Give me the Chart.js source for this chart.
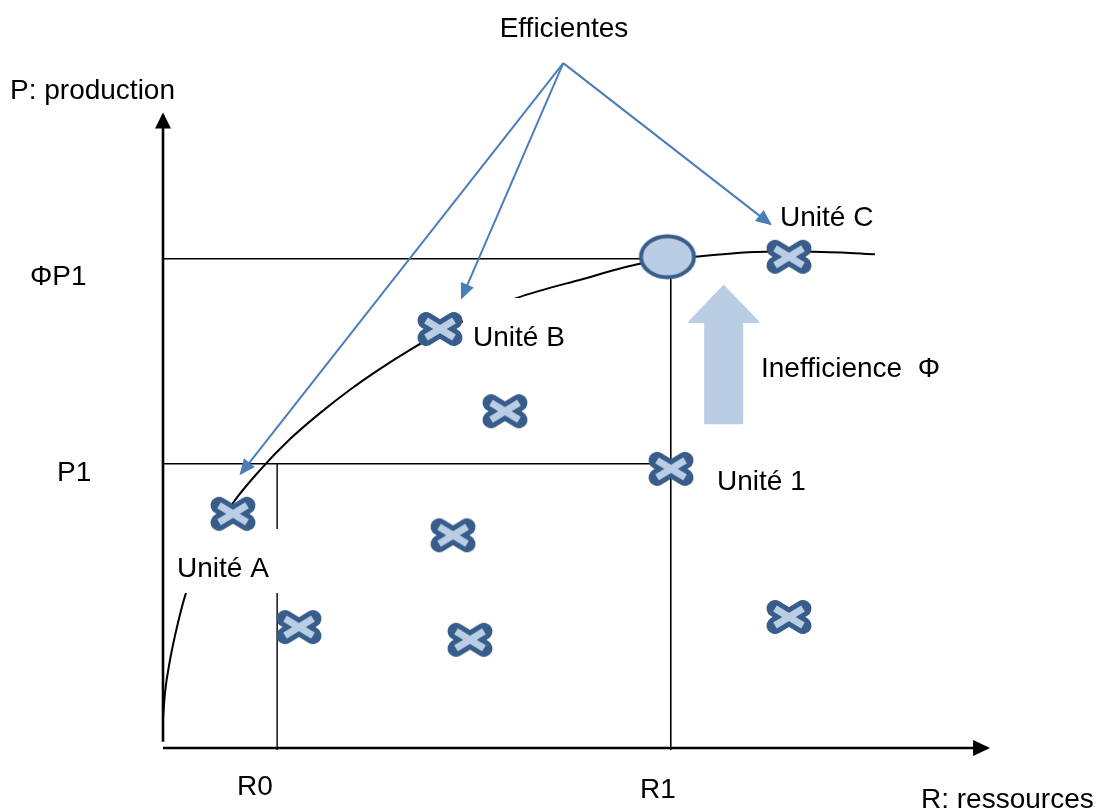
<!DOCTYPE html>
<html>
<head>
<meta charset="utf-8">
<script src="https://cdn.jsdelivr.net/npm/chart.js@4/dist/chart.umd.min.js"></script>
<style>
  html, body { margin: 0; padding: 0; background: #fff; }
  #wrap { width: 1107px; height: 810px; position: relative; }
</style>
</head>
<body>
<div id="wrap"><canvas id="c"></canvas></div>
<script>
// R (resources) on x, P (production) on y, both on a 0-100 scale
const R0 = 13.8;
const R1 = 61.4;
const P1 = 44.9;
const PHI_P1 = 77.3;

// efficiency frontier
const frontierR = [0, 0.24, 0.85, 1.69, 2.78, 4.47, 6.29, 8.46, 11.73, 15.36, 18.98, 22.61, 26.24, 29.87, 33.49, 37.12, 42.8, 50.79, 57.68, 64.33, 73.04, 78.6, 86.09];
const frontierP = [4.7, 8.7, 13.9, 19.1, 24.5, 29.7, 34.0, 38.7, 43.9, 48.8, 52.9, 56.6, 59.9, 62.9, 65.6, 67.9, 71.1, 74.1, 76.5, 77.6, 78.4, 78.4, 78.0];

// units (A, B, -, -, 1, -, -, C, -)
const unitR = [8.46, 33.49, 41.35, 35.07, 61.43, 16.44, 37.12, 75.69, 75.69];
const unitP = [37.0, 66.2, 53.2, 33.6, 44.1, 19.1, 17.1, 77.6, 20.7];

// projection of unit 1 on the frontier
const projR = [61.0];
const projP = [77.6];

// "Efficientes" callouts: common origin, then the tips (A, B, C)
const calloutFrom = [48.4, 108.2];
const calloutToR = [9.43, 36.15, 73.4];
const calloutToP = [43.4, 71.2, 82.8];

// inefficiency arrow
const gapR = 67.8;
const gapFromP = 51.3;
const gapToP = 73.0;

const FONT = '28px "Liberation Sans", Arial, sans-serif';
const DARK = '#385d8a';
const LIGHT = '#b9cde5';
const CALLOUT = '#4a7ebb';

const texts = [
  { t: 'Efficientes', x: 564, y: 37, align: 'center' },
  { t: 'P: production', x: 10, y: 99 },
  { t: '\u03A6P1', x: 30, y: 285 },
  { t: 'P1', x: 57, y: 481 },
  { t: 'Unité C', x: 780, y: 226 },
  { t: 'Unité B', x: 473, y: 346, box: true },
  { t: 'Inefficience  \u03A6', x: 761, y: 377 },
  { t: 'Unité 1', x: 717, y: 490 },
  { t: 'Unité A', x: 177, y: 577, box: true },
  { t: 'R0', x: 237, y: 795 },
  { t: 'R1', x: 640, y: 798 },
  { t: 'R: ressources', x: 921, y: 808 }
];

function makeCross() {
  const c = document.createElement('canvas');
  c.width = 52; c.height = 42;
  const g = c.getContext('2d');
  g.translate(26, 21);
  const arms = [[-14, -8.5, 14, 8.5], [-14, 8.5, 14, -8.5]];
  g.lineCap = 'round';
  g.lineJoin = 'round';
  g.strokeStyle = DARK;
  g.lineWidth = 17;
  arms.forEach(a => { g.beginPath(); g.moveTo(a[0], a[1]); g.lineTo(a[2], a[3]); g.stroke(); });
  g.lineCap = 'butt';
  g.strokeStyle = LIGHT;
  g.lineWidth = 7;
  arms.forEach(a => { g.beginPath(); g.moveTo(a[0], a[1]); g.lineTo(a[2], a[3]); g.stroke(); });
  return c;
}

function makeEllipse() {
  const c = document.createElement('canvas');
  c.width = 62; c.height = 50;
  const g = c.getContext('2d');
  g.beginPath();
  g.ellipse(31, 25, 26.5, 20.5, 0, 0, Math.PI * 2);
  g.fillStyle = LIGHT;
  g.fill();
  g.lineWidth = 4;
  g.strokeStyle = DARK;
  g.stroke();
  return c;
}

const pts = (xs, ys) => xs.map((x, i) => ({ x: x, y: ys[i] }));
const seg = (x1, y1, x2, y2) => [{ x: x1, y: y1 }, { x: x2, y: y2 }];

const lineDs = (label, data, color, width, order, extra) => Object.assign({
  label: label, data: data, showLine: true, borderColor: color, borderWidth: width,
  pointRadius: 0, fill: false, order: order, clip: false
}, extra || {});

const datasets = [
  { label: 'units', data: pts(unitR, unitP), pointStyle: makeCross(), pointRadius: 20, order: 0, clip: false },
  { label: 'projection', data: pts(projR, projP), pointStyle: makeEllipse(), pointRadius: 25, order: 1, clip: false }
];
calloutToR.forEach((r, i) => {
  datasets.push(lineDs('callout' + i, seg(calloutFrom[0], calloutFrom[1], r, calloutToP[i]), CALLOUT, 2, 2,
    { arrow: { len: 16, half: 7, color: CALLOUT } }));
});
datasets.push(lineDs('frontier', pts(frontierR, frontierP), '#000', 2, 5, { cubicInterpolationMode: 'monotone' }));
datasets.push(lineDs('guideP1', seg(0, P1, R1, P1), '#000', 1.6, 6));
datasets.push(lineDs('guidePhi', seg(0, PHI_P1, R1, PHI_P1), '#000', 1.6, 6));
datasets.push(lineDs('guideR0', seg(R0, -0.3, R0, P1), '#000', 1.4, 6));
datasets.push(lineDs('guideR1', seg(R1, -0.3, R1, PHI_P1), '#000', 1.6, 6));
datasets.push(lineDs('axisR', seg(0, 0, 99.7, 0), '#000', 2.6, 7, { arrow: { len: 17, half: 8, color: '#000' } }));
datasets.push(lineDs('axisP', seg(0, 1, 0, 100), '#000', 2.6, 7, { arrow: { len: 16, half: 8, color: '#000' } }));

const diagramPlugin = {
  id: 'diagram',
  afterDatasetDraw(chart, args) {
    const ds = chart.data.datasets[args.index];
    const ctx = chart.ctx;
    if (ds.label !== 'frontier') return;
    // white label boxes that hide the curve and R0 guide
    ctx.save();
    ctx.font = FONT;
    texts.filter(l => l.box).forEach(l => {
      const w = ctx.measureText(l.t).width;
      ctx.fillStyle = '#fff';
      ctx.fillRect(l.x - 10, l.y - 48, w + 22, 64);
    });
    // inefficiency arrow
    const xs = chart.scales.x, ys = chart.scales.y;
    const cx = xs.getPixelForValue(gapR);
    const yb = ys.getPixelForValue(gapFromP);
    const yt = ys.getPixelForValue(gapToP);
    const shaft = 18.5, head = 34.5, headLen = 36;
    ctx.beginPath();
    ctx.moveTo(cx - shaft, yb);
    ctx.lineTo(cx - shaft, yt + headLen);
    ctx.lineTo(cx - head, yt + headLen);
    ctx.lineTo(cx, yt);
    ctx.lineTo(cx + head, yt + headLen);
    ctx.lineTo(cx + shaft, yt + headLen);
    ctx.lineTo(cx + shaft, yb);
    ctx.closePath();
    ctx.fillStyle = LIGHT;
    ctx.lineJoin = 'round';
    ctx.strokeStyle = LIGHT;
    ctx.lineWidth = 2;
    ctx.fill();
    ctx.stroke();
    ctx.restore();
  },
  afterDatasetsDraw(chart) {
    const ctx = chart.ctx;
    chart.data.datasets.forEach((ds, i) => {
      if (!ds.arrow) return;
      const el = chart.getDatasetMeta(i).data;
      const a = el[el.length - 2], b = el[el.length - 1];
      const ang = Math.atan2(b.y - a.y, b.x - a.x);
      ctx.save();
      ctx.translate(b.x, b.y);
      ctx.rotate(ang);
      ctx.beginPath();
      ctx.moveTo(ds.arrow.len * 0.15, 0);
      ctx.lineTo(-ds.arrow.len * 0.85, -ds.arrow.half);
      ctx.lineTo(-ds.arrow.len * 0.85, ds.arrow.half);
      ctx.closePath();
      ctx.fillStyle = ds.arrow.color;
      ctx.fill();
      ctx.restore();
    });
  },
  afterDraw(chart) {
    const ctx = chart.ctx;
    ctx.save();
    ctx.font = FONT;
    ctx.fillStyle = '#000';
    ctx.textBaseline = 'alphabetic';
    texts.forEach(l => {
      ctx.textAlign = l.align || 'left';
      ctx.fillText(l.t, l.x, l.y);
    });
    ctx.restore();
  }
};

new Chart(document.getElementById('c'), {
  type: 'scatter',
  data: { datasets: datasets },
  options: {
    responsive: true,
    maintainAspectRatio: false,
    animation: false,
    layout: { padding: { left: 163, right: 117, top: 115, bottom: 62 } },
    scales: {
      x: { type: 'linear', min: 0, max: 100, display: false },
      y: { type: 'linear', min: 0, max: 100, display: false }
    },
    plugins: { legend: { display: false }, tooltip: { enabled: false } }
  },
  plugins: [diagramPlugin]
});
</script>
</body>
</html>
